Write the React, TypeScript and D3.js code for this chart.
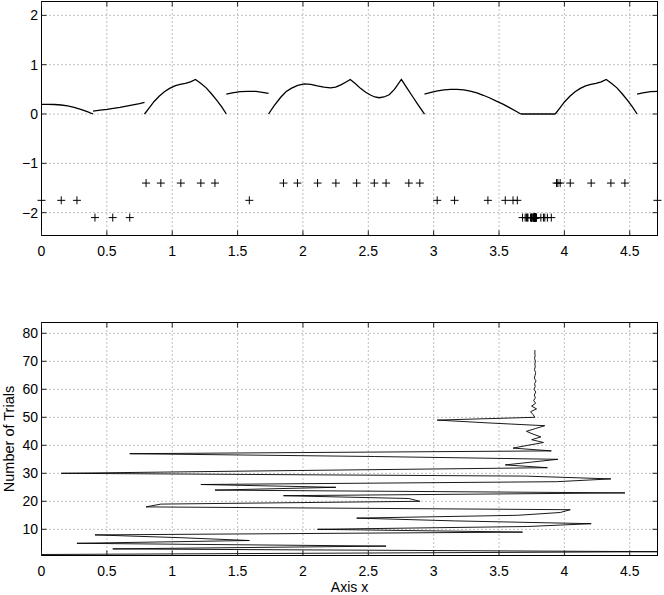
import React from "react";
import * as d3 from "d3";

// objective curve, drawn as separate pieces (x, f(x))
const seg1 = [[0, 0.197], [0.05, 0.197], [0.1, 0.193], [0.15, 0.183], [0.2, 0.165], [0.25, 0.135], [0.3, 0.095], [0.35, 0.05], [0.394, 0]];
const seg2 = [[0.394, 0.06], [0.45, 0.08], [0.5, 0.095], [0.55, 0.115], [0.6, 0.135], [0.65, 0.16], [0.7, 0.185], [0.75, 0.21], [0.788, 0.235]];
const seg3 = [[0.788, 0], [0.82, 0.11], [0.86, 0.25], [0.9, 0.36], [0.94, 0.45], [0.98, 0.52], [1.02, 0.57], [1.06, 0.6], [1.1, 0.62], [1.14, 0.65], [1.178, 0.7], [1.22, 0.62], [1.26, 0.53], [1.3, 0.41], [1.34, 0.28], [1.38, 0.14], [1.414, 0]];
const seg4 = [[1.414, 0.405], [1.46, 0.43], [1.52, 0.452], [1.58, 0.46], [1.64, 0.457], [1.69, 0.44], [1.737, 0.42]];
const seg5 = [[1.737, 0], [1.78, 0.17], [1.83, 0.34], [1.87, 0.45], [1.91, 0.52], [1.96, 0.58], [2.01, 0.61], [2.06, 0.6], [2.11, 0.57], [2.16, 0.545], [2.21, 0.53], [2.25, 0.545], [2.29, 0.59], [2.33, 0.65], [2.362, 0.7], [2.4, 0.62], [2.44, 0.52], [2.48, 0.44], [2.52, 0.38], [2.55, 0.345], [2.584, 0.33], [2.62, 0.345], [2.66, 0.39], [2.7, 0.5], [2.753, 0.7], [2.79, 0.55], [2.84, 0.35], [2.88, 0.19], [2.93, 0]];
const seg6 = [[2.93, 0.405], [2.98, 0.44], [3.03, 0.47], [3.08, 0.49], [3.13, 0.5], [3.18, 0.5], [3.23, 0.49], [3.28, 0.465], [3.33, 0.43], [3.38, 0.38], [3.43, 0.325], [3.48, 0.26], [3.53, 0.2], [3.58, 0.13], [3.63, 0.055], [3.667, 0]];
const seg7 = [[3.667, 0], [3.93, 0]];
const seg8 = [[3.93, 0], [3.962, 0.11], [4.002, 0.25], [4.042, 0.36], [4.082, 0.45], [4.122, 0.52], [4.162, 0.57], [4.202, 0.6], [4.242, 0.62], [4.282, 0.65], [4.32, 0.7], [4.362, 0.62], [4.402, 0.53], [4.442, 0.41], [4.482, 0.28], [4.522, 0.14], [4.556, 0]];
const seg9 = [[4.556, 0.405], [4.6, 0.43], [4.66, 0.452], [4.712, 0.46]];
const curveSegments = [seg1, seg2, seg3, seg4, seg5, seg6, seg7, seg8, seg9];

// x tried at each trial (trial 1..74) and the row its marker sits on in the upper plot
const trialX = [
  0, 4.712, 0.545, 2.636, 0.271, 1.59, 1.066, 0.409, 3.68, 2.112,
  3.72, 4.205, 3.16, 2.411, 3.64, 3.968, 4.045, 0.8, 0.913, 2.894,
  2.81, 1.851, 4.463, 1.327, 2.252, 1.219, 3.94, 4.356, 3.7, 0.151,
  1.958, 3.87, 3.548, 3.75, 3.95, 2.546, 0.675, 3.9, 3.607, 3.72,
  3.84, 3.75, 3.82, 3.76, 3.71, 3.78, 3.85, 3.415, 3.027, 3.774,
  3.76, 3.741, 3.787, 3.749, 3.78, 3.765, 3.778, 3.77, 3.781, 3.768,
  3.777, 3.772, 3.783, 3.77, 3.776, 3.78, 3.771, 3.777, 3.774, 3.779,
  3.772, 3.776, 3.774, 3.775,
];
const trialLevel = [
  -1.75, -1.75, -2.1, -1.4, -1.75, -1.75, -1.4, -2.1, -2.1, -1.4,
  -2.1, -1.4, -1.75, -1.4, -1.75, -1.4, -1.4, -1.4, -1.4, -1.4,
  -1.4, -1.4, -1.4, -1.4, -1.4, -1.4, -1.4, -1.4, -2.1, -1.75,
  -1.4, -2.1, -1.75, -2.1, -1.4, -1.4, -2.1, -2.1, -1.75, -2.1,
  -2.1, -2.1, -2.1, -2.1, -2.1, -2.1, -2.1, -1.75, -1.75, -2.1,
  -2.1, -2.1, -2.1, -2.1, -2.1, -2.1, -2.1, -2.1, -2.1, -2.1,
  -2.1, -2.1, -2.1, -2.1, -2.1, -2.1, -2.1, -2.1, -2.1, -2.1,
  -2.1, -2.1, -2.1, -2.1,
];

const xTicks = [0, 0.5, 1, 1.5, 2, 2.5, 3, 3.5, 4, 4.5];
const yTicksTop = [-2, -1, 0, 1, 2];
const yTicksBottom = [10, 20, 30, 40, 50, 60, 70, 80];

const W = 664;
const H = 595;
const left = 41.5;
const right = 657.5;
const font = "'Liberation Sans', Arial, Helvetica, sans-serif";

const fmt = (v: number) => (v < 0 ? "\u2212" + String(-v) : String(v));

function Panel({ x, y, yTicks, children }: any) {
  const [y0, y1] = y.range();
  const tick = 5;
  return (
    <g>
      {xTicks.map((t) => (
        <line key={"gx" + t} x1={x(t)} x2={x(t)} y1={y1} y2={y0} stroke="#808080" strokeDasharray="1,3" />
      ))}
      {yTicks.map((t: number) => (
        <line key={"gy" + t} x1={left} x2={right} y1={y(t)} y2={y(t)} stroke="#808080" strokeDasharray="1,3" />
      ))}
      {children}
      <rect x={left} y={y1} width={right - left} height={y0 - y1} fill="none" stroke="#000" />
      {xTicks.map((t) => (
        <g key={"tx" + t} stroke="#222">
          <line x1={x(t)} x2={x(t)} y1={y0} y2={y0 - tick} />
          <line x1={x(t)} x2={x(t)} y1={y1} y2={y1 + tick} />
        </g>
      ))}
      {yTicks.map((t: number) => (
        <g key={"ty" + t} stroke="#222">
          <line x1={left} x2={left + tick} y1={y(t)} y2={y(t)} />
          <line x1={right} x2={right - tick} y1={y(t)} y2={y(t)} />
        </g>
      ))}
      {xTicks.map((t) => (
        <text key={"lx" + t} x={x(t)} y={y0 + 20} textAnchor="middle" fontSize={14} fontFamily={font}>
          {fmt(t)}
        </text>
      ))}
      {yTicks.map((t: number) => (
        <text key={"ly" + t} x={38} y={y(t) + 5} textAnchor="end" fontSize={14} fontFamily={font}>
          {fmt(t)}
        </text>
      ))}
    </g>
  );
}

export default function App() {
  const x = d3.scaleLinear().domain([0, 1.5 * Math.PI]).range([left, right]);
  const yTop = d3.scaleLinear().domain([-2.463, 2.281]).range([235.5, 1.5]);
  const yBot = d3.scaleLinear().domain([0.643, 83.86]).range([555.5, 322.5]);

  const curve = d3
    .line<number[]>()
    .x((d) => x(d[0]))
    .y((d) => yTop(d[1]));

  const trials = d3
    .line<number>()
    .x((d) => x(d))
    .y((_, i) => yBot(i + 1));

  return (
    <div>
      <style>{"body{margin:0}"}</style>
      <svg width={W} height={H} style={{ display: "block", background: "#fff" }}>
        <Panel x={x} y={yTop} yTicks={yTicksTop}>
          {curveSegments.map((s, i) => (
            <path key={i} d={curve(s) || ""} fill="none" stroke="#000" strokeWidth={1.3} />
          ))}
          {trialX.map((v, i) => (
            <path
              key={"m" + i}
              transform={`translate(${x(v)},${yTop(trialLevel[i])})`}
              d="M-4,0H4M0,-4V4"
              stroke="#000"
              strokeWidth={1}
              fill="none"
            />
          ))}
        </Panel>
        <Panel x={x} y={yBot} yTicks={yTicksBottom}>
          <path d={trials(trialX) || ""} fill="none" stroke="#000" strokeWidth={0.9} />
        </Panel>
        <text x={(left + right) / 2} y={592} textAnchor="middle" fontSize={14} fontFamily={font}>
          Axis x
        </text>
        <text
          transform={`translate(13.5,${(322.5 + 555.5) / 2}) rotate(-90)`}
          textAnchor="middle"
          fontSize={14.5}
          fontFamily={font}
        >
          Number of Trials
        </text>
      </svg>
    </div>
  );
}
